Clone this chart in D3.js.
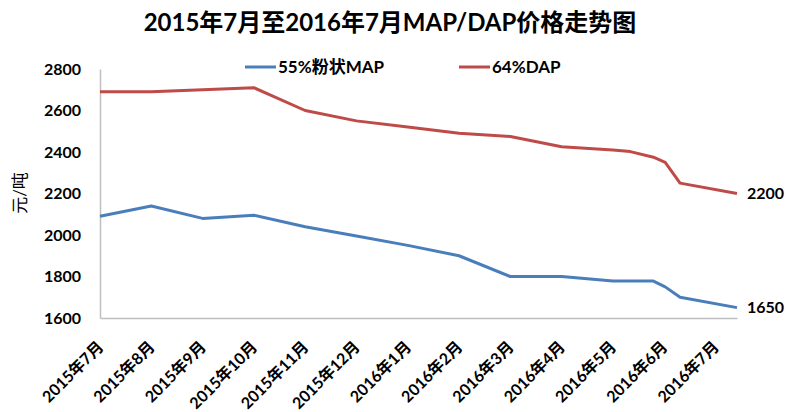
<!DOCTYPE html>
<html>
<head>
<meta charset="utf-8">
<script src="https://cdn.jsdelivr.net/npm/d3@7"></script>
<style>
  body { margin: 0; background: #fff; }
  svg text { font-family: "Lato", "Noto Sans CJK SC", sans-serif; }
</style>
</head>
<body>
<div id="chart"></div>
<script>
// chart data
var months = ["2015年7月", "2015年8月", "2015年9月", "2015年10月", "2015年11月", "2015年12月",
              "2016年1月", "2016年2月", "2016年3月", "2016年4月", "2016年5月", "2016年6月", "2016年7月"];
// position of each observation, in months after 2015年7月
var obsMonth = [0, 1, 2, 3, 4, 5, 6, 7, 8, 9, 10, 10.34, 10.79, 11.02, 11.31, 12.42];
var mapPrice = [2090, 2140, 2080, 2095, 2040, 1995, 1950, 1900, 1800, 1800, 1778, 1778, 1778, 1750, 1700, 1650];
var dapPrice = [2690, 2690, 2700, 2710, 2600, 2550, 2520, 2490, 2475, 2425, 2410, 2402, 2375, 2350, 2250, 2200];
var seriesNames = ["55%粉状MAP", "64%DAP"];
var yTicks = [1600, 1800, 2000, 2200, 2400, 2600, 2800];

var width = 786, height = 412;
var margin = { top: 69, right: 49, bottom: 94, left: 100 };

var svg = d3.select("#chart")
    .append("svg")
    .attr("width", width)
    .attr("height", height);

var x = d3.scaleLinear()
    .domain([0, d3.max(obsMonth)])
    .range([margin.left, width - margin.right]);

var y = d3.scaleLinear()
    .domain([1600, 2800])
    .range([height - margin.bottom, margin.top]);

var colors = ["#4a7ebb", "#be4b48"];

// title
svg.append("text")
    .attr("x", 390)
    .attr("y", 31)
    .attr("text-anchor", "middle")
    .style("font-size", "24px")
    .style("font-weight", "bold")
    .text("2015年7月至2016年7月MAP/DAP价格走势图");

// y axis
var yAxis = svg.append("g")
    .attr("transform", "translate(" + margin.left + ",0)")
    .call(d3.axisLeft(y).tickValues(yTicks).tickSize(0).tickPadding(19).tickFormat(d3.format("d")));
yAxis.select(".domain").attr("stroke", "#bfbfbf").attr("stroke-width", 1.5);
yAxis.selectAll("text")
    .style("font-size", "16px")
    .style("font-weight", "bold")
    .attr("fill", "#000");

// x axis
var xAxis = svg.append("g")
    .attr("transform", "translate(0," + y(1600) + ")")
    .call(d3.axisBottom(x).tickValues(d3.range(months.length)).tickSize(0)
        .tickFormat(function(d) { return months[d]; }));
xAxis.select(".domain").attr("stroke", "#bfbfbf").attr("stroke-width", 1.5);
xAxis.selectAll("text")
    .style("font-size", "16px")
    .style("font-weight", "bold")
    .attr("fill", "#000")
    .attr("text-anchor", "end")
    .attr("dy", null)
    .attr("y", 0)
    .attr("transform", "translate(4,30) rotate(-45)");

// y axis title
svg.append("text")
    .attr("transform", "translate(26,193) rotate(-90)")
    .attr("text-anchor", "middle")
    .style("font-size", "17px")
    .text("元/吨");

// lines
var line = d3.line()
    .x(function(d) { return x(d[0]); })
    .y(function(d) { return y(d[1]); });

[mapPrice, dapPrice].forEach(function(vals, i) {
    var pts = obsMonth.map(function(m, j) { return [m, vals[j]]; });
    svg.append("path")
        .datum(pts)
        .attr("d", line)
        .attr("fill", "none")
        .attr("stroke", colors[i])
        .attr("stroke-width", 3)
        .attr("stroke-linejoin", "round");

    // value label at the last point
    var last = pts[pts.length - 1];
    svg.append("text")
        .attr("x", x(last[0]) + 10)
        .attr("y", y(last[1]))
        .attr("dy", "0.36em")
        .style("font-size", "16px")
        .style("font-weight", "bold")
        .text(last[1]);
});

// legend
var legendX = [245, 459];
seriesNames.forEach(function(name, i) {
    var g = svg.append("g").attr("transform", "translate(" + legendX[i] + ",67)");
    g.append("line")
        .attr("x1", 0).attr("x2", 31)
        .attr("stroke", colors[i])
        .attr("stroke-width", 3);
    g.append("text")
        .attr("x", 33)
        .attr("dy", "0.36em")
        .style("font-size", "17px")
        .style("font-weight", "bold")
        .text(name);
});
</script>
</body>
</html>
